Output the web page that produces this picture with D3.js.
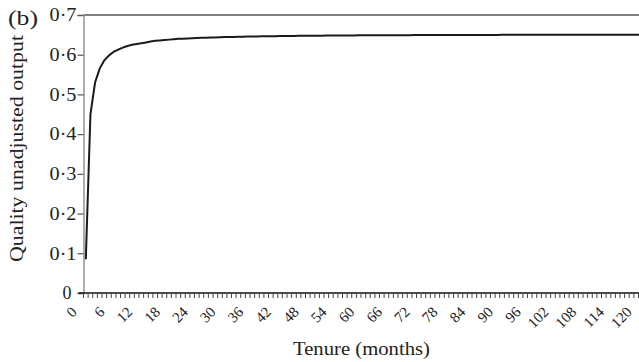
<!DOCTYPE html>
<html>
<head>
<meta charset="utf-8">
<script src="https://cdn.jsdelivr.net/npm/d3@7/dist/d3.min.js"></script>
<style>
  html, body { margin: 0; padding: 0; background: #fff; }
  svg { display: block; }
  text { font-family: "Liberation Serif", "DejaVu Serif", serif; fill: #222; }
</style>
</head>
<body>
<svg id="chart" width="639" height="362"></svg>
<script>
// Tenure in months (one category per month)
const months = d3.range(0, 121);

// Quality unadjusted output by month of tenure
const output = [
  0.085, 0.450, 0.530, 0.565, 0.586, 0.598, 0.607, 0.613, 0.618, 0.622,
  0.625, 0.627, 0.629, 0.631, 0.633, 0.635, 0.636, 0.637, 0.638, 0.639,
  0.640,
  0.6405, 0.641, 0.6415, 0.642, 0.6425, 0.643, 0.6433, 0.6436, 0.644, 0.6443,
  0.6446, 0.6449, 0.6452, 0.6454, 0.6456, 0.6458, 0.646, 0.6462, 0.6464, 0.6466,
  0.6468, 0.6469, 0.6471, 0.6472, 0.6473, 0.6475, 0.6476, 0.6477, 0.6478, 0.6479,
  0.648, 0.6481, 0.6482, 0.6483, 0.6484, 0.6485, 0.6486, 0.6486, 0.6487, 0.6488,
  0.6488, 0.6489, 0.649, 0.649, 0.6491, 0.6491, 0.6492, 0.6492, 0.6493, 0.6493,
  0.6494, 0.6494, 0.6495, 0.6495, 0.6495, 0.6496, 0.6496, 0.6496, 0.6497, 0.6497,
  0.6497, 0.6498, 0.6498, 0.6498, 0.6498, 0.6499, 0.6499, 0.6499, 0.6499, 0.65,
  0.65, 0.65, 0.65, 0.6501, 0.6501, 0.6501, 0.6501, 0.6501, 0.6502, 0.6502,
  0.6502, 0.6502, 0.6502, 0.6502, 0.6503, 0.6503, 0.6503, 0.6503, 0.6503, 0.6503,
  0.6504, 0.6504, 0.6504, 0.6504, 0.6504, 0.6504, 0.6505, 0.6505, 0.6505, 0.6505
];

// Axis tick labels
const xTickLabels = d3.range(0, 121, 6);
const yTicks = [0, 0.1, 0.2, 0.3, 0.4, 0.5, 0.6, 0.7];

const svg = d3.select("#chart");
const plotLeft = 83.5, plotTop = 15, plotBottom = 293;
const step = 4.625;
const plotRight = plotLeft + step * months.length;

const x = d3.scaleBand().domain(months).range([plotLeft, plotRight]).paddingInner(0).paddingOuter(0);
const y = d3.scaleLinear().domain([0, 0.7]).range([plotBottom, plotTop]);
const cx = d => x(d) + x.bandwidth() / 2;

// top frame line
svg.append("line")
  .attr("x1", plotLeft).attr("x2", plotRight)
  .attr("y1", y(0.7)).attr("y2", y(0.7))
  .attr("stroke", "#555").attr("stroke-width", 1.6);

// y axis
const yAxis = d3.axisLeft(y).tickValues(yTicks).tickSize(6).tickPadding(1)
  .tickFormat(d => d === 0 ? "0" : d3.format(".1f")(d).replace(".", "·"));
const gy = svg.append("g").attr("transform", `translate(${plotLeft},0)`).call(yAxis);
gy.select(".domain").attr("stroke", "#999").attr("stroke-width", 1.6);
gy.selectAll(".tick line").attr("stroke", "#555").attr("stroke-width", 1.2);
gy.selectAll(".tick text")
  .attr("font-size", 18).attr("fill", "#333")
  .style("font-family", "'Liberation Serif', serif")
  .attr("dx", d => d === 0 ? -5 : 0)
  .each(function (d) {
    if (d !== 0) d3.select(this).attr("textLength", 27).attr("lengthAdjust", "spacingAndGlyphs");
  });

// x axis: a tick at every month boundary
const gx = svg.append("g").attr("transform", `translate(0,${plotBottom})`);
gx.append("line").attr("x1", plotLeft - 5).attr("x2", plotRight)
  .attr("stroke", "#111").attr("stroke-width", 1.6);
gx.selectAll("line.tk").data(months.concat([months.length]))
  .join("line").attr("class", "tk")
  .attr("x1", d => plotLeft + d * step).attr("x2", d => plotLeft + d * step)
  .attr("y1", 0).attr("y2", 5)
  .attr("stroke", "#444").attr("stroke-width", 1);
gx.selectAll("text.xl").data(xTickLabels)
  .join("text").attr("class", "xl")
  .attr("transform", d => `translate(${cx(d) - 8},20) rotate(-45)`)
  .attr("text-anchor", "end")
  .attr("font-size", 15).attr("fill", "#333")
  .text(d => d);

// curve
const line = d3.line().x((d, i) => cx(months[i])).y(d => y(d));
svg.append("path").datum(output)
  .attr("d", line).attr("fill", "none")
  .attr("stroke", "#1a1a1a").attr("stroke-width", 2);

// titles
svg.append("text").attr("x", 8).attr("y", 25).attr("font-size", 21)
  .attr("textLength", 30).attr("lengthAdjust", "spacingAndGlyphs").text("(b)");
svg.append("text").attr("transform", `translate(23,148.5) rotate(-90)`)
  .attr("text-anchor", "middle").attr("font-size", 18)
  .attr("textLength", 227).attr("lengthAdjust", "spacingAndGlyphs")
  .text("Quality unadjusted output");
svg.append("text").attr("x", 361.5).attr("y", 355)
  .attr("text-anchor", "middle").attr("font-size", 18)
  .attr("textLength", 137).attr("lengthAdjust", "spacingAndGlyphs")
  .text("Tenure (months)");
</script>
</body>
</html>
